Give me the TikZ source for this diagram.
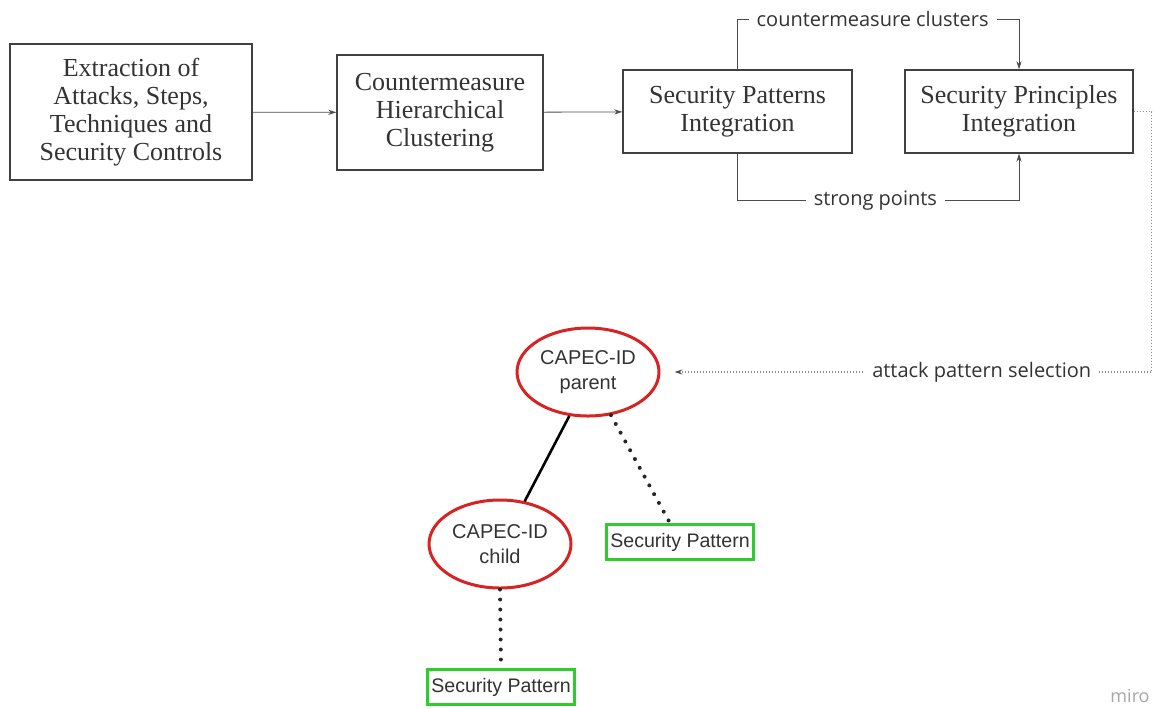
\documentclass[tikz,border=0pt]{standalone}
\usepackage{fontspec}
\setmainfont{Liberation Serif}
\setsansfont{Liberation Sans}
\newfontfamily\labelfont{Open Sans}
\usetikzlibrary{shapes.geometric,arrows.meta}
\definecolor{capecred}{RGB}{215,35,35}
\definecolor{patterngreen}{RGB}{45,205,45}

\begin{document}
\begin{tikzpicture}[x=0.5pt, y=-0.5pt,
  every node/.style={align=center, text=black!80},
  stepbox/.style={draw=black!75, line width=0.7pt, rectangle, inner sep=2pt, font=\fontsize{13}{14}\selectfont},
  capec/.style={draw=capecred, line width=1.5pt, ellipse, minimum width=71pt, minimum height=44pt, inner sep=0pt, font=\sffamily\fontsize{10}{12.5}\selectfont},
  greenbox/.style={draw=patterngreen, line width=1.3pt, rectangle, minimum width=73.5pt, minimum height=17.5pt, inner sep=1pt, font=\sffamily\fontsize{9.8}{10}\selectfont},
  flow/.style={draw=black!70, line width=0.4pt, -{Stealth[length=4pt,width=2.6pt]}},
  pick/.style={draw=black!45, line width=0.6pt, dash pattern=on 0.6pt off 0.9pt, -{Stealth[length=4pt,width=2.6pt,black!70]}},
  flowlabel/.style={fill=white, font=\labelfont\fontsize{10}{12}\selectfont, inner sep=4pt},
  link/.style={draw=black, line width=1.3pt},
  dotlink/.style={draw=black!85, line width=2pt, line cap=round, dash pattern=on 0pt off 5pt}
]
\useasboundingbox (0,0) rectangle (1154,708);

% Pipeline
\node[stepbox, minimum width=121pt, minimum height=68pt] (extract) at (131,112) {Extraction of\\Attacks, Steps,\\Techniques and\\Security Controls};
\node[stepbox, minimum width=103pt, minimum height=57.5pt] (cluster) at (440,112.5) {Countermeasure\\Hierarchical\\Clustering};
\node[stepbox, minimum width=114.5pt, minimum height=41.5pt] (sp) at (737.5,111.5) {Security Patterns\\Integration};
\node[stepbox, minimum width=114pt, minimum height=41.5pt] (spr) at (1019,111.5) {Security Principles\\Integration};

\draw[flow] (extract) -- (cluster);
\draw[flow] (cluster) -- (sp);
\draw[flow] (sp.north) -- ++(0,-50) -| node[flowlabel, pos=0.24] {countermeasure clusters} (spr.north);
\draw[flow] (sp.south) -- ++(0,47) -| node[flowlabel, pos=0.245] {strong points} (spr.south);

% CAPEC tree
\node[capec] (parent) at (588,372) {CAPEC-ID\\parent};
\node[capec] (child) at (500,544) {CAPEC-ID\\child};
\node[greenbox] (sp1) at (680,542) {Security Pattern};
\node[greenbox] (sp2) at (501,687) {Security Pattern};

\draw[pick, shorten >=7pt] (spr.east) -- ++(18,0) |- node[flowlabel, pos=0.673] {attack pattern selection} (parent.east);
\draw[link] (parent.-113) -- (child.60);
\draw[dotlink] (parent.-62) -- ([xshift=-5pt]sp1.north);
\draw[dotlink] (child.south) -- (sp2.north);

\node[anchor=east, text=black!35, inner sep=0pt, font=\labelfont\fontsize{9}{10}\selectfont] (wm) at (1150,696) {miro};

\end{tikzpicture}
\end{document}
